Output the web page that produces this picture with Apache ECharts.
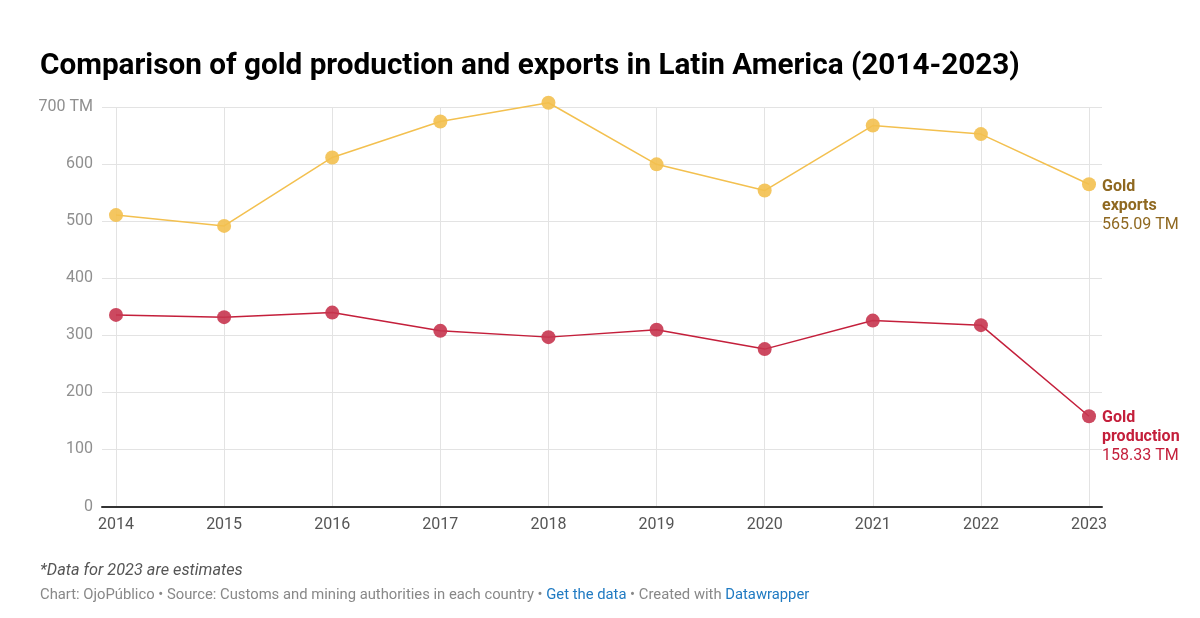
<!DOCTYPE html>
<html>
<head>
<meta charset="utf-8">
<script src="https://cdn.jsdelivr.net/npm/echarts@6/dist/echarts.min.js"></script>
<style>
html,body{margin:0;padding:0;background:#fff;}
#chart{width:1200px;height:618px;}
</style>
</head>
<body>
<div id="chart"></div>
<script>
const years = ['2014','2015','2016','2017','2018','2019','2020','2021','2022','2023'];
const goldExports = [511, 492, 612, 675, 708, 600, 554, 668, 653, 565.09];
const goldProduction = [336, 332, 340, 308, 297, 310, 276, 326, 318, 158.33];
const yTicks = [0, 100, 200, 300, 400, 500, 600, 700];

const titleText = 'Comparison of gold production and exports in Latin America (2014-2023)';
const noteText = '*Data for 2023 are estimates';

const exportColor = '#f3c04f';
const prodColor = '#c41f3b';

const chart = echarts.init(document.getElementById('chart'), null, {renderer: 'canvas'});

const gridTop = 107.3, gridBottom = 111.5;

chart.setOption({
  animation: false,
  backgroundColor: '#fff',
  textStyle: {fontFamily: 'Roboto'},
  title: {
    text: titleText,
    left: 35, top: 47,
    textStyle: {fontFamily: 'Roboto', fontWeight: 'bold', fontSize: 29.7, color: '#000'}
  },
  grid: [
    {left: 116, right: 111, top: gridTop, bottom: gridBottom},
    {left: 102, right: 98, top: gridTop, bottom: gridBottom}
  ],
  xAxis: [
    {
      type: 'category', gridIndex: 0, data: years, boundaryGap: false,
      axisLine: {show: false}, axisTick: {show: false},
      axisLabel: {color: '#555', fontSize: 16, margin: 10, fontFamily: 'Roboto'},
      splitLine: {show: true, lineStyle: {color: '#e3e3e3', width: 1}}
    },
    {
      type: 'value', gridIndex: 1, min: 0, max: 1,
      axisLine: {show: true, onZero: false, lineStyle: {color: '#333', width: 2}},
      axisTick: {show: false}, axisLabel: {show: false}, splitLine: {show: false}
    }
  ],
  yAxis: [
    {
      type: 'value', gridIndex: 0, min: 0, max: 700, interval: 100,
      axisLine: {show: false}, axisTick: {show: false}, axisLabel: {show: false},
      splitLine: {show: false}
    },
    {
      type: 'value', gridIndex: 1, min: yTicks[0], max: yTicks[yTicks.length - 1], interval: 100,
      axisLine: {show: false}, axisTick: {show: false},
      axisLabel: {
        color: '#8f8f8f', fontSize: 16, margin: 9, fontFamily: 'Roboto',
        formatter: v => v === 700 ? v + ' TM' : String(v)
      },
      splitLine: {show: true, lineStyle: {color: '#e3e3e3', width: 1}}
    }
  ],
  series: [
    {
      name: 'Gold exports', type: 'line', xAxisIndex: 0, yAxisIndex: 0,
      data: goldExports, symbol: 'circle', symbolSize: 14, z: 5, clip: false,
      lineStyle: {color: exportColor, width: 1.5},
      itemStyle: {color: exportColor, opacity: 0.9},
      emphasis: {disabled: true},
      endLabel: {
        show: true, offset: [5, 22], align: 'left',
        formatter: () => '{b|Gold}\n{b|exports}\n{v|565.09 TM}',
        rich: {
          b: {fontFamily: 'Roboto', fontWeight: 'bold', fontSize: 16, color: '#8f6820', lineHeight: 19},
          v: {fontFamily: 'Roboto', fontSize: 16, color: '#8f6820', lineHeight: 19}
        }
      }
    },
    {
      name: 'Gold production', type: 'line', xAxisIndex: 0, yAxisIndex: 0,
      data: goldProduction, symbol: 'circle', symbolSize: 14, z: 5, clip: false,
      lineStyle: {color: prodColor, width: 1.5},
      itemStyle: {color: '#c7354f', opacity: 0.9},
      emphasis: {disabled: true},
      endLabel: {
        show: true, offset: [5, 21], align: 'left',
        formatter: () => '{b|Gold}\n{b|production}\n{v|158.33 TM}',
        rich: {
          b: {fontFamily: 'Roboto', fontWeight: 'bold', fontSize: 16, color: '#c41f3b', lineHeight: 19},
          v: {fontFamily: 'Roboto', fontSize: 16, color: '#c41f3b', lineHeight: 19}
        }
      }
    }
  ],
  graphic: [
    {
      type: 'text', left: 40, top: 563,
      style: {text: noteText, fontFamily: 'Roboto', fontStyle: 'italic', fontSize: 16.3, fill: '#555'}
    },
    {
      type: 'text', left: 40, top: 588,
      style: {
        text: '{g|Chart: OjoPúblico • Source: Customs and mining authorities in each country • }{l|Get the data}{g| • Created with }{l|Datawrapper}',
        rich: {
          g: {fontFamily: 'Roboto', fontSize: 14.8, fill: '#888'},
          l: {fontFamily: 'Roboto', fontSize: 14.8, fill: '#1f7ac2'}
        }
      }
    }
  ]
});
</script>
</body>
</html>
